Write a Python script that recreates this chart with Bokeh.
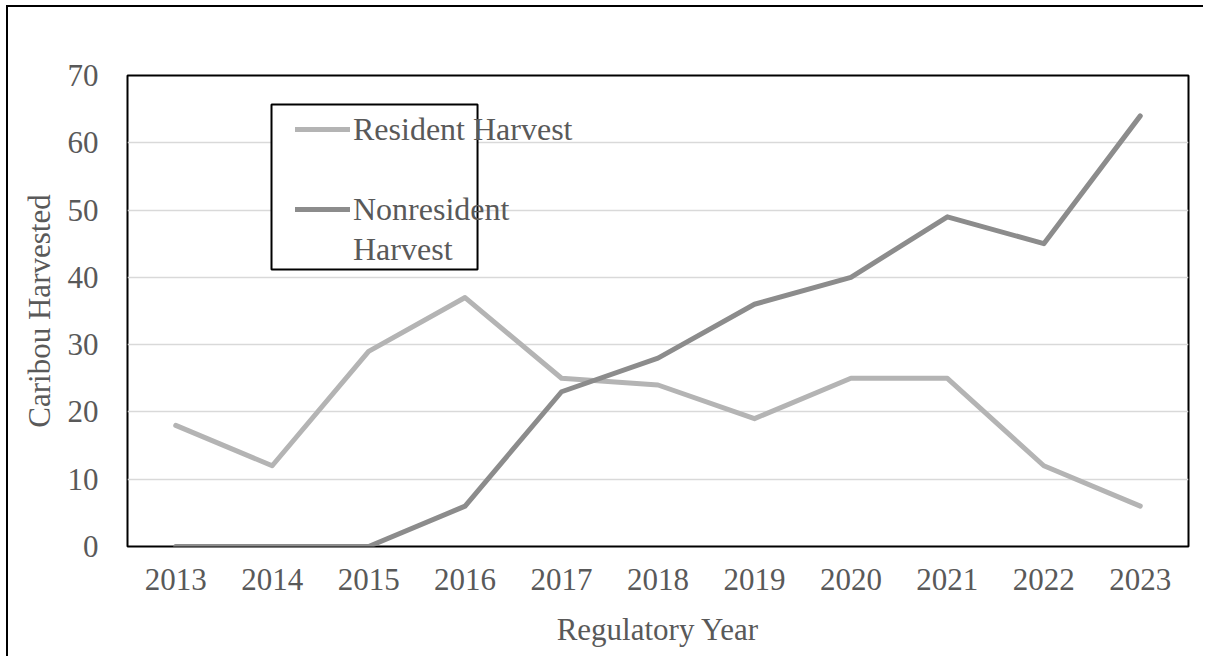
from bokeh.plotting import figure
from bokeh.models import (FactorRange, Range1d, FixedTicker, Legend, LegendItem,
                          BoxAnnotation)
from bokeh.embed import file_html
from bokeh.resources import INLINE

years = ["2013", "2014", "2015", "2016", "2017", "2018", "2019", "2020", "2021", "2022", "2023"]
resident = [18, 12, 29, 37, 25, 24, 19, 25, 25, 12, 6]
nonresident = [0, 0, 0, 6, 23, 28, 36, 40, 49, 45, 64]
y_ticks = [0, 10, 20, 30, 40, 50, 60, 70]

FONT = "Liberation Serif"
TXT = "#595959"
FS = "31px"

p = figure(width=1197, height=651, x_range=FactorRange(*years), y_range=Range1d(0, 70),
           output_backend="svg", toolbar_location=None,
           min_border_left=119, min_border_right=17, min_border_top=68, min_border_bottom=112)
p.styles = {"border-left": "2px solid black", "border-top": "2px solid black",
            "margin-left": "6px", "margin-top": "5px"}

p.outline_line_color = "black"
p.outline_line_width = 2
p.xgrid.grid_line_color = None
p.ygrid.grid_line_color = "#d9d9d9"
p.ygrid.grid_line_width = 1.5
p.yaxis.ticker = FixedTicker(ticks=y_ticks)

for ax in (p.xaxis[0], p.yaxis[0]):
    ax.axis_line_color = None
    ax.major_tick_line_color = None
    ax.minor_tick_line_color = None
    ax.major_label_text_font = FONT
    ax.major_label_text_font_size = FS
    ax.major_label_text_color = TXT
    ax.axis_label_text_font = FONT
    ax.axis_label_text_font_size = FS
    ax.axis_label_text_color = TXT
    ax.axis_label_text_font_style = "normal"

p.xaxis.axis_label = "Regulatory Year"
p.yaxis.axis_label = "Caribou Harvested"
p.yaxis.major_label_standoff = 23
p.yaxis.axis_label_standoff = 8
p.xaxis.major_label_standoff = 16
p.xaxis.axis_label_standoff = 19

r1 = p.line(years, resident, line_color="#b4b4b4", line_width=5, line_cap="round", line_join="round")
r2 = p.line(years, nonresident, line_color="#8c8c8c", line_width=5, line_cap="round", line_join="round")
blank = p.line([], [], line_alpha=0)

box = BoxAnnotation(left=1.493, right=3.629, bottom=41.17, top=65.69,
                    fill_color="white", fill_alpha=1, line_color="black", line_alpha=1, line_width=2)
p.add_layout(box)

legend = Legend(items=[LegendItem(label="Resident Harvest", renderers=[r1]),
                       LegendItem(label=" ", renderers=[blank]),
                       LegendItem(label="Nonresident", renderers=[r2]),
                       LegendItem(label="Harvest", renderers=[blank])],
                location=(168, 277), padding=0, margin=0, spacing=0,
                label_height=40, glyph_height=40, glyph_width=55, label_standoff=3,
                border_line_alpha=0, background_fill_alpha=0,
                label_text_font=FONT, label_text_font_size="32px", label_text_color=TXT)
p.add_layout(legend)

open("out.html", "w").write(file_html(p, INLINE))
